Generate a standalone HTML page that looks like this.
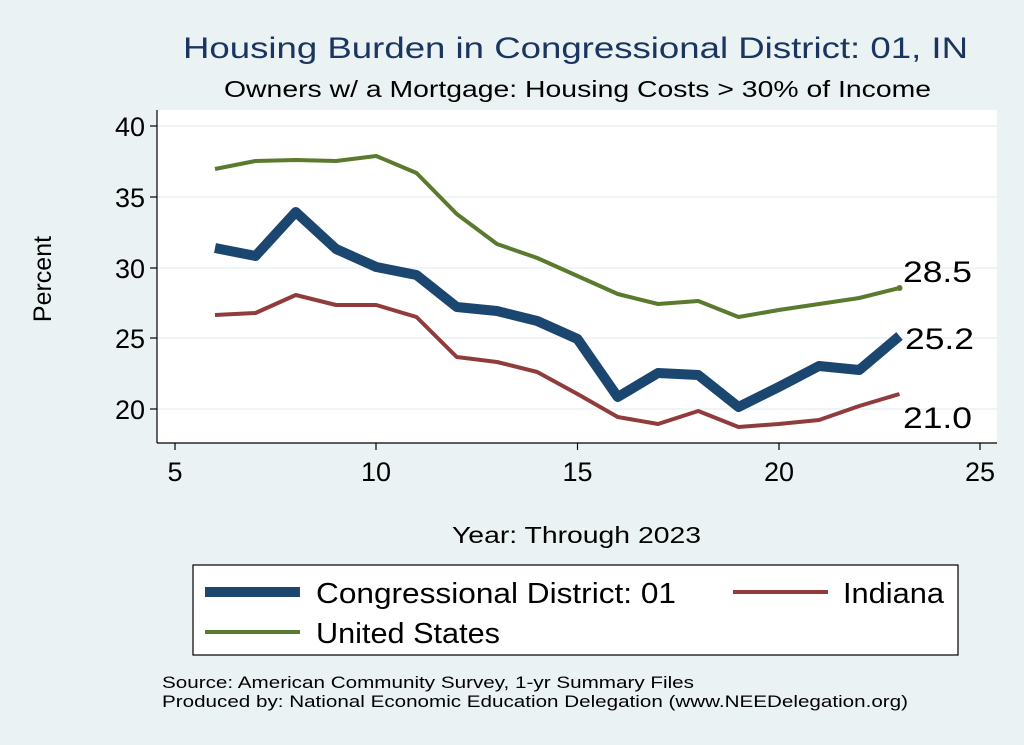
<!DOCTYPE html>
<html><head><meta charset="utf-8"><style>
body{margin:0;background:#eaf2f3;}
svg{display:block;font-family:"Liberation Sans",Arial,sans-serif;}
</style></head><body>
<svg width="1024" height="745" viewBox="0 0 1024 745">
<rect width="1024" height="745" fill="#eaf2f3"/>
<text x="183" y="58" font-size="30" fill="#1a3560" textLength="785" lengthAdjust="spacingAndGlyphs">Housing Burden in Congressional District:  01, IN</text>
<text x="224" y="97" font-size="23" fill="#000" textLength="707" lengthAdjust="spacingAndGlyphs">Owners w/ a Mortgage: Housing Costs &gt; 30% of Income</text>
<rect x="157" y="110" width="840" height="333" fill="#fff"/>
<g stroke="#eaf2f3" stroke-width="1.5">
<line x1="157" y1="126" x2="997" y2="126"/><line x1="157" y1="197" x2="997" y2="197"/>
<line x1="157" y1="268" x2="997" y2="268"/><line x1="157" y1="338" x2="997" y2="338"/>
<line x1="157" y1="409" x2="997" y2="409"/>
</g>
<g stroke="#000" stroke-width="1.2">
<line x1="157" y1="110" x2="157" y2="443"/><line x1="157" y1="443" x2="997" y2="443"/>
<line x1="150" y1="126" x2="157" y2="126"/><line x1="150" y1="197" x2="157" y2="197"/><line x1="150" y1="268" x2="157" y2="268"/><line x1="150" y1="338" x2="157" y2="338"/><line x1="150" y1="409" x2="157" y2="409"/>
<line x1="175" y1="443" x2="175" y2="450"/><line x1="376" y1="443" x2="376" y2="450"/><line x1="577.5" y1="443" x2="577.5" y2="450"/><line x1="779" y1="443" x2="779" y2="450"/><line x1="980" y1="443" x2="980" y2="450"/>
</g>
<g font-size="27" text-anchor="end">
<text x="145" y="136">40</text><text x="145" y="207">35</text><text x="145" y="278">30</text><text x="145" y="348">25</text><text x="145" y="419">20</text>
</g>
<g font-size="27" text-anchor="middle">
<text x="175" y="481">5</text><text x="376" y="481">10</text><text x="577.5" y="481">15</text><text x="779" y="481">20</text><text x="980" y="481">25</text>
</g>
<text x="51" y="279" font-size="25" text-anchor="middle" transform="rotate(-90 51 279)">Percent</text>
<text x="452" y="543" font-size="23" textLength="249" lengthAdjust="spacingAndGlyphs">Year: Through 2023</text>
<polyline fill="none" stroke="#5a7a2e" stroke-width="4" stroke-linejoin="round" points="215,169 255.5,161 295.75,160 336,161 376.25,156 416.5,173 456.75,214 497,244 537.25,258 577.5,276 617.75,294 658,304 698.25,301 738.5,317 778.75,310 819,304 859.25,298 899.5,288"/>
<circle cx="899.5" cy="288" r="3" fill="#5a7a2e"/>
<polyline fill="none" stroke="#903c3c" stroke-width="4" stroke-linejoin="round" points="215,315 255.5,313 295.75,295 336,305 376.25,305 416.5,317 456.75,357 497,362 537.25,372 577.5,394 617.75,417 658,424 698.25,411 738.5,427 778.75,424 819,420 859.25,406 899.5,394"/>
<polyline fill="none" stroke="#1a4670" stroke-width="10" stroke-linejoin="round" points="215,248 255.5,256 295.75,212 336,249 376.25,267 416.5,275 456.75,307 497,311 537.25,321 577.5,339 617.75,397 658,373 698.25,375 738.5,407 778.75,387 819,366 859.25,370 899.5,336"/>
<g font-size="30"><text x="903" y="282" textLength="69" lengthAdjust="spacingAndGlyphs">28.5</text><text x="905" y="349" textLength="69" lengthAdjust="spacingAndGlyphs">25.2</text><text x="903" y="428" textLength="69" lengthAdjust="spacingAndGlyphs">21.0</text></g>
<rect x="193" y="565" width="765" height="90" fill="#fff" stroke="#000" stroke-width="1.2"/>
<line x1="205" y1="592" x2="300" y2="592" stroke="#1a4670" stroke-width="10"/>
<text x="316" y="603" font-size="29" textLength="360" lengthAdjust="spacingAndGlyphs">Congressional District:  01</text>
<line x1="733" y1="592" x2="828" y2="592" stroke="#903c3c" stroke-width="4"/>
<text x="843" y="603" font-size="29" textLength="101" lengthAdjust="spacingAndGlyphs">Indiana</text>
<line x1="205" y1="632" x2="300" y2="632" stroke="#5a7a2e" stroke-width="4"/>
<text x="316" y="643" font-size="29" textLength="184" lengthAdjust="spacingAndGlyphs">United States</text>
<text x="162" y="688" font-size="17" textLength="532" lengthAdjust="spacingAndGlyphs">Source: American Community Survey, 1-yr Summary Files</text>
<text x="162" y="707" font-size="17" textLength="746" lengthAdjust="spacingAndGlyphs">Produced by: National Economic Education Delegation (www.NEEDelegation.org)</text>
</svg>
</body></html>
